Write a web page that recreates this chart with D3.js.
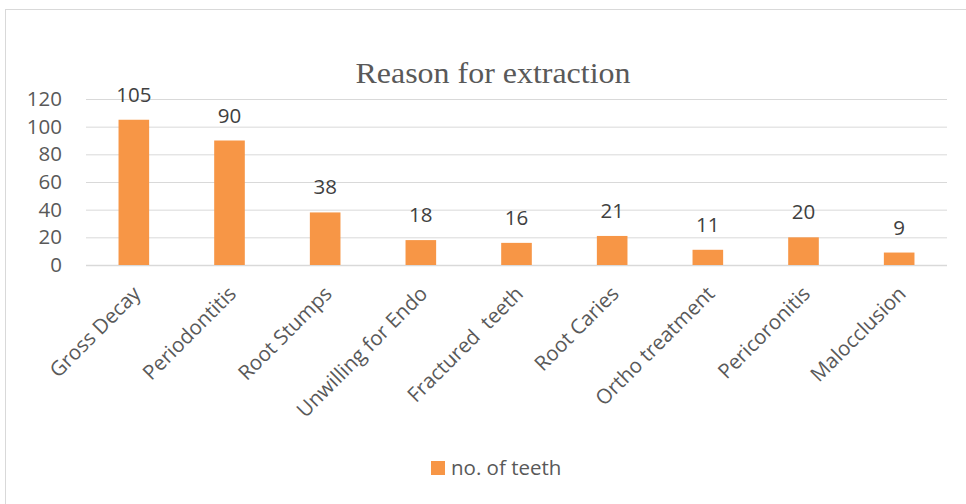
<!DOCTYPE html>
<html><head><meta charset="utf-8">
<script src="https://cdn.jsdelivr.net/npm/d3@7"></script>
<style>body{margin:0;background:#fff}svg{display:block}</style>
</head><body>
<script>
const categories = ["Gross Decay","Periodontitis","Root Stumps","Unwilling for Endo","Fractured  teeth","Root Caries","Ortho treatment","Pericoronitis","Malocclusion"];
const values = [105,90,38,18,16,21,11,20,9];
const yTicks = [0,20,40,60,80,100,120];
const seriesName = "no. of teeth";
const title = "Reason for extraction";

const W=966,H=504;
const svg=d3.select("body").append("svg").attr("width",W).attr("height",H);
svg.append("rect").attr("x",5.5).attr("y",9.5).attr("width",970).attr("height",510)
  .attr("fill","#fff").attr("stroke","#d9d9d9").attr("stroke-width",1);

const x=d3.scaleBand().domain(categories).range([86,947]).paddingInner(0.68).paddingOuter(0.34);
const y=d3.scaleLinear().domain([0,120]).range([265,99]);
const font="'Open Sans', 'Liberation Sans', sans-serif";

const g=svg.append("g");
g.selectAll("line.grid").data(yTicks).join("line")
  .attr("x1",86).attr("x2",947).attr("y1",d=>y(d)+0.5).attr("y2",d=>y(d)+0.5)
  .attr("stroke","#d9d9d9").attr("stroke-width",d=>d===0?1.5:1);

const yAxis=g.append("g").attr("transform","translate(86,0)")
  .call(d3.axisLeft(y).tickValues(yTicks).tickSize(0).tickPadding(24));
yAxis.select(".domain").remove();
yAxis.selectAll("text").attr("font-family",font).attr("font-size",20.5).attr("fill","#595959");

g.selectAll("rect.bar").data(values).join("rect")
  .attr("x",(d,i)=>x(categories[i])).attr("width",x.bandwidth())
  .attr("y",d=>y(d)).attr("height",d=>y(0)-y(d)).attr("fill","#f79646");

g.selectAll("text.val").data(values).join("text")
  .attr("x",(d,i)=>x(categories[i])+x.bandwidth()/2).attr("y",d=>y(d)-18)
  .attr("text-anchor","middle").attr("font-family",font).attr("font-size",20.5).attr("fill","#404040")
  .text(d=>d);

const xAxis=g.append("g").attr("transform","translate(0,265)")
  .call(d3.axisBottom(x).tickSize(0).tickPadding(0));
xAxis.select(".domain").remove();
xAxis.selectAll("text").attr("font-family",font).attr("font-size",20.5).attr("fill","#595959")
  .attr("text-anchor","end").attr("dy",null).attr("y",0)
  .attr("transform","translate(8,30) rotate(-45)")
  .style("white-space","pre");

svg.append("text").attr("x",493).attr("y",83).attr("text-anchor","middle")
  .attr("font-family","'Liberation Serif','Times New Roman',serif").attr("font-size",30).attr("fill","#595959")
  .attr("textLength",275).attr("lengthAdjust","spacingAndGlyphs").text(title);

svg.append("rect").attr("x",431).attr("y",461).attr("width",14).attr("height",14).attr("fill","#f79646");
svg.append("text").attr("x",451).attr("y",475).attr("font-family",font).attr("font-size",20.5).attr("fill","#595959").text(seriesName);
</script>
</body></html>
